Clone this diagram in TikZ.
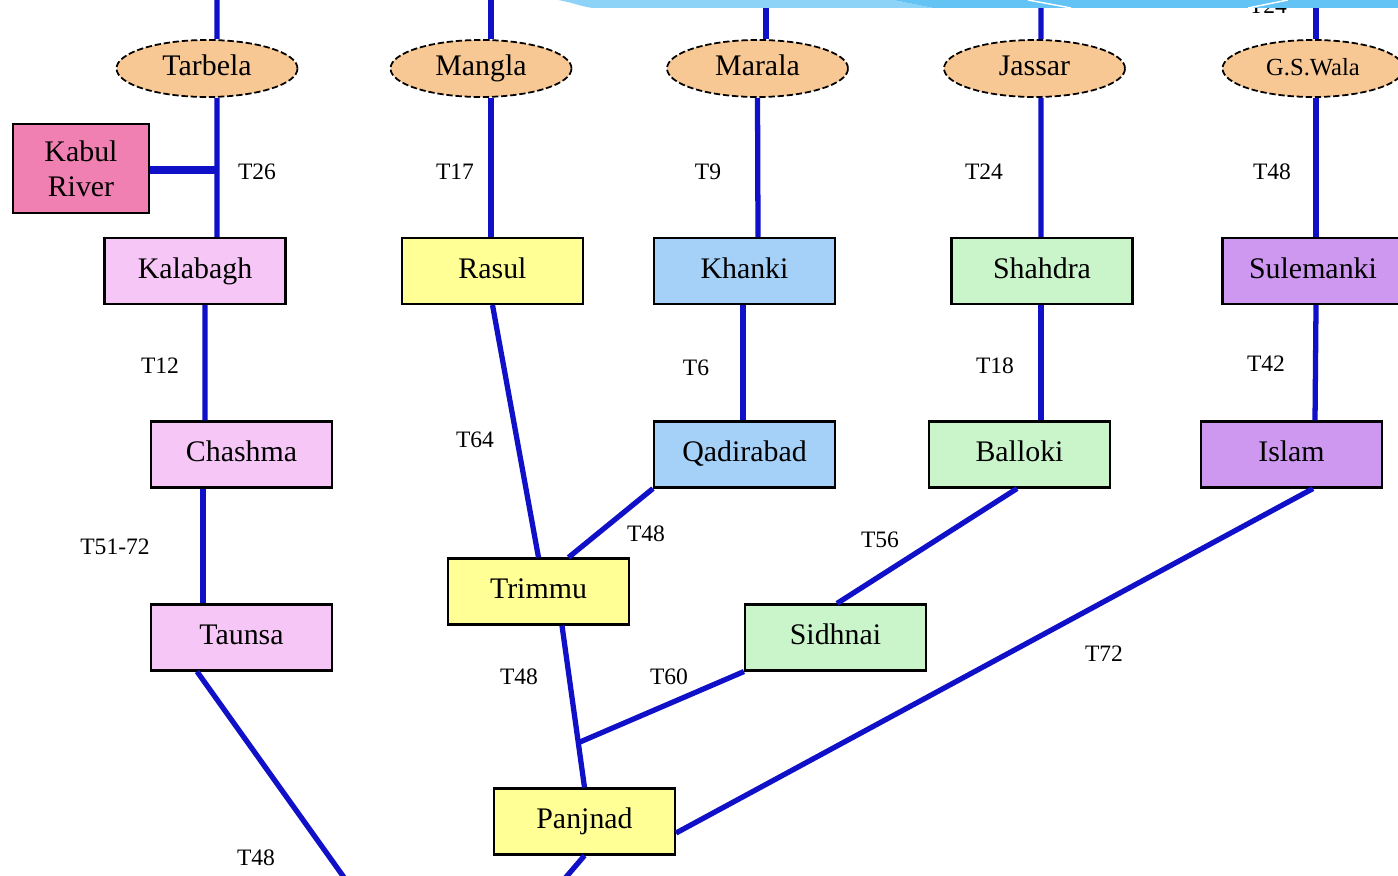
\documentclass[tikz,border=0pt]{standalone}
\usepackage{fontspec}
\setmainfont{Liberation Serif}
\usetikzlibrary{shapes.geometric}

\definecolor{damfill}{RGB}{248,200,148}
\definecolor{kabulfill}{RGB}{240,128,178}
\definecolor{indusfill}{RGB}{246,198,246}
\definecolor{jhelumfill}{RGB}{255,255,150}
\definecolor{chenabfill}{RGB}{165,208,248}
\definecolor{ravifill}{RGB}{202,245,202}
\definecolor{sutlejfill}{RGB}{206,152,240}
\definecolor{riverblue}{RGB}{16,16,200}
\definecolor{bandblue}{RGB}{99,195,245}
\definecolor{bandlight}{RGB}{141,211,248}

\newcommand{\nodefont}{\fontsize{8.5}{10}\selectfont}
\newcommand{\tagfont}{\fontsize{6.7}{7}\selectfont}

\begin{document}
\begin{tikzpicture}[x=1cm,y=-1cm,
    dam/.style={ellipse,draw,dash pattern=on 1.8pt off 0.8pt,line width=0.5pt,
      fill=damfill,minimum width=1.81cm,minimum height=0.57cm,inner sep=0pt,
      text height=6pt,text depth=1.8pt,font=\nodefont},
    barrage/.style={rectangle,draw,line width=0.6pt,minimum width=1.81cm,
      minimum height=0.66cm,inner sep=0pt,text height=6pt,text depth=1.8pt,
      font=\nodefont},
    tag/.style={inner sep=0pt,font=\tagfont},
    river/.style={draw=riverblue,line width=1.5pt}]
  \useasboundingbox (0,0) rectangle (13.98,8.76);
  \clip (0,0) rectangle (13.98,8.76);

  % dams
  \node[dam] (tarbela) at (2.07,0.685) {Tarbela};
  \node[dam] (mangla) at (4.81,0.685) {Mangla};
  \node[dam] (marala) at (7.575,0.685) {Marala};
  \node[dam] (jassar) at (10.345,0.685) {Jassar};
  \node[dam,font=\fontsize{7}{8}\selectfont] (gswala) at (13.13,0.685) {G.S.Wala};

  % barrages
  \node[barrage,fill=kabulfill,minimum width=1.36cm,minimum height=0.89cm,
    align=center,text height=,text depth=] (kabul) at (0.81,1.685) {Kabul\\River};
  \node[barrage,fill=indusfill] (kalabagh) at (1.95,2.71) {Kalabagh};
  \node[barrage,fill=indusfill] (chashma) at (2.415,4.545) {Chashma};
  \node[barrage,fill=indusfill] (taunsa) at (2.415,6.375) {Taunsa};
  \node[barrage,fill=jhelumfill] (rasul) at (4.925,2.71) {Rasul};
  \node[barrage,fill=jhelumfill] (trimmu) at (5.385,5.915) {Trimmu};
  \node[barrage,fill=jhelumfill] (panjnad) at (5.845,8.215) {Panjnad};
  \node[barrage,fill=chenabfill] (khanki) at (7.445,2.71) {Khanki};
  \node[barrage,fill=chenabfill] (qadirabad) at (7.445,4.545) {Qadirabad};
  \node[barrage,fill=ravifill] (shahdra) at (10.42,2.71) {Shahdra};
  \node[barrage,fill=ravifill] (balloki) at (10.195,4.545) {Balloki};
  \node[barrage,fill=ravifill] (sidhnai) at (8.355,6.375) {Sidhnai};
  \node[barrage,fill=sutlejfill] (sulemanki) at (13.13,2.71) {Sulemanki};
  \node[barrage,fill=sutlejfill] (islam) at (12.915,4.545) {Islam};

  % free ends
  \coordinate (indusIn) at (2.17,-0.1);
  \coordinate (jhelumIn) at (4.91,-0.1);
  \coordinate (chenabIn) at (7.66,-0.1);
  \coordinate (raviIn) at (10.41,-0.1);
  \coordinate (sutlejIn) at (13.16,-0.1);
  \coordinate (kabulJoin) at (2.17,1.70);
  \coordinate (sidhnaiJoin) at (5.80,7.42);
  \coordinate (indusOut) at (3.53,8.90);
  \coordinate (panjnadOut) at (5.55,8.90);

  \begin{scope}[river]
    \draw (indusIn) to ([xshift=0.10cm]tarbela.north);
    \draw (jhelumIn) to ([xshift=0.10cm]mangla.north);
    \draw (chenabIn) to ([xshift=0.085cm]marala.north);
    \draw (raviIn) to ([xshift=0.065cm]jassar.north);
    \draw (sutlejIn) to ([xshift=0.03cm]gswala.north);
    \draw ([xshift=0.10cm]tarbela.south) to ([xshift=0.22cm]kalabagh.north);
    \draw[line width=2pt] ([yshift=-0.015cm]kabul.east) to (kabulJoin);
    \draw ([xshift=0.10cm]kalabagh.south) to ([xshift=-0.365cm]chashma.north);
    \draw ([xshift=-0.385cm]chashma.south) to ([xshift=-0.385cm]taunsa.north);
    \draw ([xshift=-0.445cm]taunsa.south) to (indusOut);
    \draw ([xshift=0.10cm]mangla.south) to ([xshift=-0.015cm]rasul.north);
    \draw (rasul.south) to (trimmu.north);
    \draw (marala.south) to ([xshift=0.135cm]khanki.north);
    \draw ([xshift=-0.015cm]khanki.south) to ([xshift=-0.015cm]qadirabad.north);
    \draw (qadirabad.south west) to ([xshift=0.30cm]trimmu.north);
    \draw ([xshift=0.235cm]trimmu.south) to (panjnad.north);
    \draw ([xshift=0.065cm]jassar.south) to ([xshift=-0.01cm]shahdra.north);
    \draw ([xshift=-0.01cm]shahdra.south) to ([xshift=0.215cm]balloki.north);
    \draw ([xshift=-0.025cm]balloki.south) to ([xshift=0.015cm]sidhnai.north);
    \draw (sidhnai.south west) to (sidhnaiJoin);
    \draw ([xshift=0.03cm]gswala.south) to ([xshift=0.03cm]sulemanki.north);
    \draw ([xshift=0.03cm]sulemanki.south) to ([xshift=0.235cm]islam.north);
    \draw ([xshift=0.215cm]islam.south) to ([yshift=-0.115cm]panjnad.east);
    \draw (panjnad.south) to (panjnadOut);
  \end{scope}

  % reaches
  \node[tag] (t26) at (2.57,1.72) {T26};
  \node[tag] (t17) at (4.55,1.72) {T17};
  \node[tag] (t9) at (7.08,1.72) {T9};
  \node[tag] (t24) at (9.84,1.72) {T24};
  \node[tag] (t48a) at (12.72,1.72) {T48};
  \node[tag] (t24b) at (12.68,0.06) {T24};
  \node[tag] (t12) at (1.60,3.66) {T12};
  \node[tag] (t6) at (6.96,3.68) {T6};
  \node[tag] (t18) at (9.95,3.66) {T18};
  \node[tag] (t42) at (12.66,3.64) {T42};
  \node[tag] (t64) at (4.75,4.40) {T64};
  \node[tag] (t5172) at (1.15,5.47) {T51-72};
  \node[tag] (t48b) at (6.46,5.34) {T48};
  \node[tag] (t56) at (8.80,5.40) {T56};
  \node[tag] (t48c) at (5.19,6.77) {T48};
  \node[tag] (t60) at (6.69,6.77) {T60};
  \node[tag] (t72) at (11.04,6.54) {T72};
  \node[tag] (t48d) at (2.56,8.58) {T48};

  % slide band
  \fill[bandlight] (5.58,0) .. controls (5.75,0.03) and (5.85,0.08) .. (5.95,0.08)
    -- (9.33,0.08) -- (8.93,0) -- cycle;
  \fill[bandblue] (8.93,0) -- (9.33,0.08) -- (13.98,0.08) -- (13.98,0) -- cycle;
  \draw[white,line width=0.4pt] (10.28,0) -- (10.71,0.08);
  \draw[white,line width=0.4pt] (12.48,0.08) -- (12.88,0);
\end{tikzpicture}
\end{document}
